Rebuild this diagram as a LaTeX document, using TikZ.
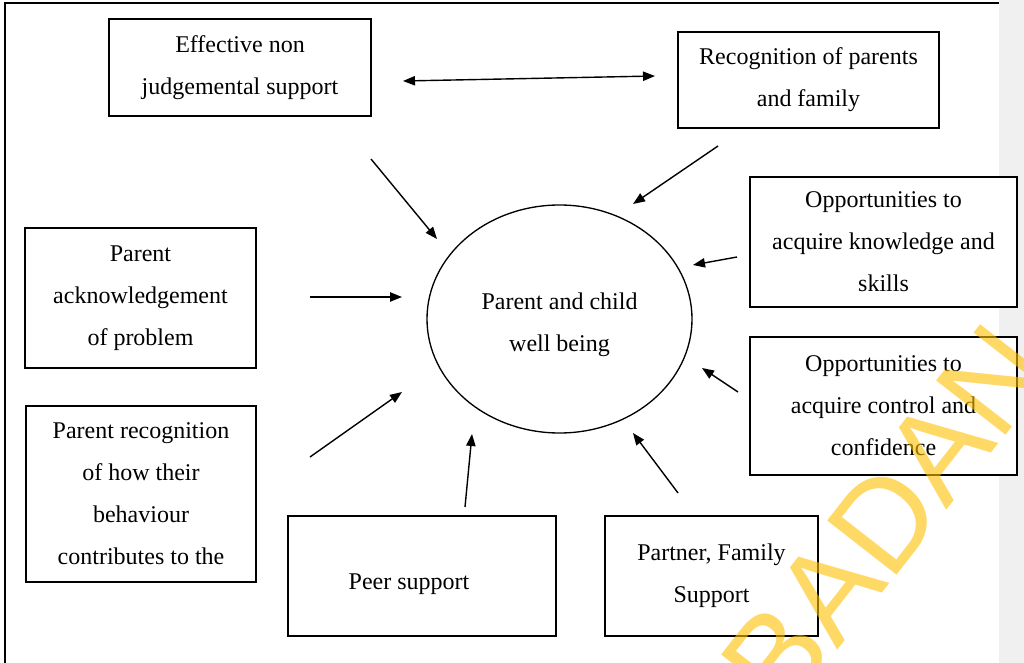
\documentclass[tikz,border=0pt]{standalone}
\usepackage{fontspec}
\setmainfont{Liberation Serif}
\newfontfamily\wmfont{Liberation Sans}
\usetikzlibrary{arrows.meta,shapes.geometric}
\definecolor{wmyellow}{RGB}{255,192,0}
\definecolor{stripgray}{RGB}{240,240,240}
\begin{document}
\begin{tikzpicture}[x=0.75pt,y=-0.75pt,
  box/.style={draw,line width=1pt,fill=white,inner sep=0pt,align=center,
    font=\fontsize{18pt}{31.5pt}\selectfont},
  lbl/.style={inner sep=0pt,align=center,font=\fontsize{18pt}{31.5pt}\selectfont},
  arr/.style={line width=1.05pt,-{Triangle[length=9pt,width=7pt]}},
  darr/.style={line width=1.05pt,{Triangle[length=9pt,width=7pt]}-{Triangle[length=9pt,width=7pt]}},
  wm/.style={text=wmyellow,text opacity=0.6,inner sep=0pt,
    font=\wmfont\fontsize{96pt}{96pt}\selectfont}]
\useasboundingbox (0,0) rectangle (1024,663);
\fill[stripgray] (999,0) rectangle (1024,663);
\draw[line width=1.5pt] (5,663) -- (5,3) -- (999,3);

% boxes
\node[box,minimum width=262*0.75pt,minimum height=97*0.75pt] (eff) at (240,67.5)
  {Effective non\\judgemental support};
\node[box,minimum width=261*0.75pt,minimum height=96*0.75pt] (recog) at (808.5,80)
  {Recognition of parents\\and family};
\node[box,minimum width=267*0.75pt,minimum height=130*0.75pt] (oppk) at (883.5,242)
  {Opportunities to\\acquire knowledge and\\skills};
\node[box,minimum width=267*0.75pt,minimum height=138*0.75pt] (oppc) at (883.5,406)
  {Opportunities to\\acquire control and\\confidence};
\node[box,minimum width=231*0.75pt,minimum height=140*0.75pt] (ack) at (140.5,298)
  {Parent\\acknowledgement\\of problem};
\node[box,minimum width=230*0.75pt,minimum height=176*0.75pt] (beh) at (141,494)
  {Parent recognition\\of how their\\behaviour\\contributes to the};
\node[box,minimum width=268*0.75pt,minimum height=120*0.75pt] (peer) at (422,576) {};
\node[lbl] (peertxt) at (409,584) {Peer support};
\node[box,minimum width=213*0.75pt,minimum height=120*0.75pt] (partner) at (711.5,576)
  {Partner, Family\\Support};

% centre
\node[ellipse,draw,line width=1pt,minimum width=265*0.75pt,minimum height=228*0.75pt,
  inner sep=0pt] (well) at (559.5,319) {};
\node[lbl] (welltxt) at (559.5,325) {Parent and child\\well being};

% arrow end points
\coordinate (a1) at (371,159); \coordinate (a2) at (437,239);
\coordinate (b1) at (718,146); \coordinate (b2) at (633,204);
\coordinate (c1) at (737,257); \coordinate (c2) at (693,265);
\coordinate (d1) at (310,297); \coordinate (d2) at (402,297);
\coordinate (e1) at (310,457); \coordinate (e2) at (402,392);
\coordinate (f1) at (465,507); \coordinate (f2) at (472,434);
\coordinate (g1) at (678,493); \coordinate (g2) at (633,433);
\coordinate (h1) at (738,392); \coordinate (h2) at (702,368);
\coordinate (i1) at (403,81);  \coordinate (i2) at (655,76);

\draw[arr] (a1) -- (a2);
\draw[arr] (b1) -- (b2);
\draw[arr] (c1) -- (c2);
\draw[arr] (d1) -- (d2);
\draw[arr] (e1) -- (e2);
\draw[arr] (f1) -- (f2);
\draw[arr] (g1) -- (g2);
\draw[arr] (h1) -- (h2);
\draw[darr] (i1) -- (i2);

% watermark
\node[wm,rotate=52] (mark) at (886,517) {BADAN};
\end{tikzpicture}
\end{document}
